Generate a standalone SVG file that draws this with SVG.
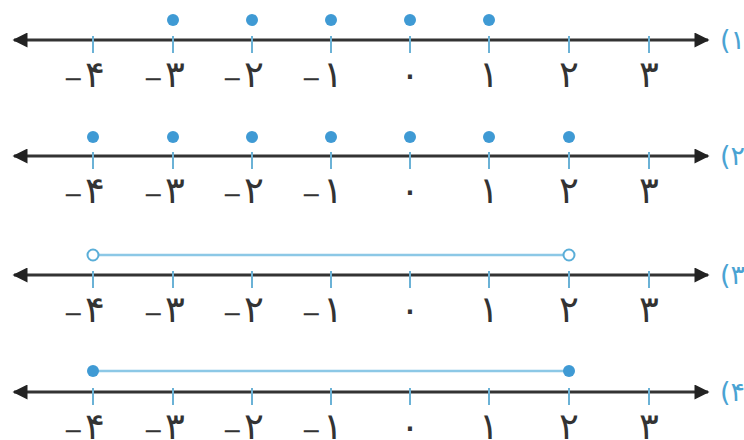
<svg xmlns="http://www.w3.org/2000/svg" width="744" height="440" viewBox="0 0 744 440">
<style>
.axis{stroke:#333;stroke-width:3;fill:none}
.tick{stroke:#6bb2d6;stroke-width:2}
.num{font-family:"DejaVu Sans","Noto Sans",sans-serif;font-size:37px;fill:#333;text-anchor:middle}
.mn{font-size:24px}
.lab{font-family:"DejaVu Sans","Noto Sans",sans-serif;font-size:27px;fill:#4aa3d3}
.dot{fill:#3f9ad4}
.seg{stroke:#8cc8e6;stroke-width:2.5}
.open{fill:#fff;stroke:#5aaed8;stroke-width:2}
</style>
<defs>
<marker id="ah" viewBox="0 0 10 10" refX="9" refY="5" markerWidth="6" markerHeight="5" orient="auto-start-reverse" markerUnits="strokeWidth">
<path d="M0,0 L10,5 L0,10 z" fill="#222"/>
</marker>
<g id="ticks">
<line class="tick" x1="93" y1="-4" x2="93" y2="13"/>
<line class="tick" x1="173" y1="-4" x2="173" y2="13"/>
<line class="tick" x1="252" y1="-4" x2="252" y2="13"/>
<line class="tick" x1="331" y1="-4" x2="331" y2="13"/>
<line class="tick" x1="410" y1="-4" x2="410" y2="13"/>
<line class="tick" x1="489" y1="-4" x2="489" y2="13"/>
<line class="tick" x1="569" y1="-4" x2="569" y2="13"/>
<line class="tick" x1="649" y1="-4" x2="649" y2="13"/>
</g>
<g id="nums">
<text class="num" x="84" y="47"><tspan class="mn">−</tspan><tspan dx="2">۴</tspan></text>
<text class="num" x="164" y="47"><tspan class="mn">−</tspan><tspan dx="2">۳</tspan></text>
<text class="num" x="243" y="47"><tspan class="mn">−</tspan><tspan dx="2">۲</tspan></text>
<text class="num" x="322" y="47"><tspan class="mn">−</tspan><tspan dx="2">۱</tspan></text>
<text class="num" x="410" y="47">۰</text>
<text class="num" x="489" y="47">۱</text>
<text class="num" x="569" y="47">۲</text>
<text class="num" x="649" y="47">۳</text>
</g>
</defs>
<g id="connectors">
<line class="axis" x1="14" y1="40" x2="708" y2="40" marker-start="url(#ah)" marker-end="url(#ah)"/>
<line class="axis" x1="14" y1="156" x2="708" y2="156" marker-start="url(#ah)" marker-end="url(#ah)"/>
<line class="axis" x1="14" y1="275" x2="708" y2="275" marker-start="url(#ah)" marker-end="url(#ah)"/>
<line class="axis" x1="14" y1="392" x2="708" y2="392" marker-start="url(#ah)" marker-end="url(#ah)"/>
<line class="seg" x1="93" y1="255" x2="569" y2="255"/>
<line class="seg" x1="93" y1="371" x2="569" y2="371"/>
</g>
<g id="line1">
<use href="#ticks" y="40"/>
<use href="#nums" y="40"/>
<text class="lab" x="720" y="49">(۱</text>
<circle class="dot" cx="173" cy="20" r="6"/>
<circle class="dot" cx="252" cy="20" r="6"/>
<circle class="dot" cx="331" cy="20" r="6"/>
<circle class="dot" cx="410" cy="20" r="6"/>
<circle class="dot" cx="489" cy="20" r="6"/>
</g>
<g id="line2">
<use href="#ticks" y="156"/>
<use href="#nums" y="156"/>
<text class="lab" x="720" y="165">(۲</text>
<circle class="dot" cx="93" cy="137" r="6"/>
<circle class="dot" cx="173" cy="137" r="6"/>
<circle class="dot" cx="252" cy="137" r="6"/>
<circle class="dot" cx="331" cy="137" r="6"/>
<circle class="dot" cx="410" cy="137" r="6"/>
<circle class="dot" cx="489" cy="137" r="6"/>
<circle class="dot" cx="569" cy="137" r="6"/>
</g>
<g id="line3">
<use href="#ticks" y="275"/>
<use href="#nums" y="275"/>
<text class="lab" x="720" y="284">(۳</text>
<circle class="open" cx="93" cy="255" r="5.5"/>
<circle class="open" cx="569" cy="255" r="5.5"/>
</g>
<g id="line4">
<use href="#ticks" y="392"/>
<use href="#nums" y="392"/>
<text class="lab" x="720" y="401">(۴</text>
<circle class="dot" cx="93" cy="371" r="6"/>
<circle class="dot" cx="569" cy="371" r="6"/>
</g>
</svg>
